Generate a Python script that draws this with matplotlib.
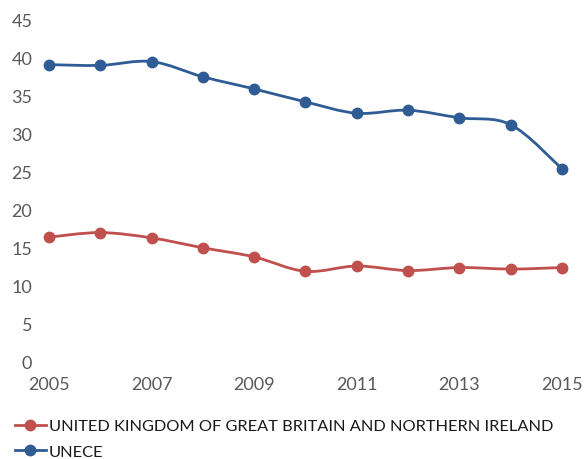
import matplotlib.pyplot as plt
from matplotlib.path import Path
from matplotlib.patches import PathPatch
from matplotlib.lines import Line2D

plt.rcParams['font.family'] = ['Lato', 'DejaVu Sans']

years = [2005, 2006, 2007, 2008, 2009, 2010, 2011, 2012, 2013, 2014, 2015]
uk = [16.3, 16.9, 16.2, 14.9, 13.7, 11.8, 12.5, 11.9, 12.3, 12.1, 12.3]
unece = [39.0, 38.9, 39.4, 37.4, 35.8, 34.1, 32.6, 33.0, 32.0, 31.1, 25.3]
uk_label = 'UNITED KINGDOM OF GREAT BRITAIN AND NORTHERN IRELAND'
unece_label = 'UNECE'
red = '#C0504D'
blue = '#2F5C95'


def smooth_path(xs, ys):
    # catmull-rom style bezier, roughly how excel smooths lines
    verts = [(xs[0], ys[0])]
    codes = [Path.MOVETO]
    n = len(xs)
    for i in range(n - 1):
        x0, y0 = (xs[i - 1], ys[i - 1]) if i > 0 else (xs[i], ys[i])
        x1, y1 = xs[i], ys[i]
        x2, y2 = xs[i + 1], ys[i + 1]
        x3, y3 = (xs[i + 2], ys[i + 2]) if i + 2 < n else (x2, y2)
        c1 = (x1 + (x2 - x0) / 6, y1 + (y2 - y0) / 6)
        c2 = (x2 - (x3 - x1) / 6, y2 - (y3 - y1) / 6)
        verts += [c1, c2, (x2, y2)]
        codes += [Path.CURVE4] * 3
    return Path(verts, codes)


fig = plt.figure(figsize=(5.88, 4.60), dpi=100)
ax = fig.add_axes([0.0833, 0.213, 0.8724, 0.7435])

for ys, col in [(uk, red), (unece, blue)]:
    ax.add_patch(PathPatch(smooth_path(years, ys), fill=False, edgecolor=col,
                           lw=2.0, capstyle='round', joinstyle='round', zorder=2))
    ax.plot(years, ys, 'o', color=col, ms=7.5, zorder=3, clip_on=False)

ax.set_xlim(2005, 2015)
ax.set_ylim(0, 45)
ax.set_xticks(range(2005, 2016, 2))
ax.set_yticks(range(0, 46, 5))
for s in ax.spines.values():
    s.set_visible(False)
ax.tick_params(length=0, labelsize=13, colors='#595959')
ax.tick_params(axis='x', pad=11)
ax.tick_params(axis='y', pad=12)

handles = [Line2D([], [], color=red, lw=2.0, marker='o', ms=7.5),
           Line2D([], [], color=blue, lw=2.0, marker='o', ms=7.5)]
fig.legend(handles, [uk_label, unece_label], loc='upper left',
           bbox_to_anchor=(0.025, 0.087), frameon=False, fontsize=11.8,
           handlelength=1.9, handletextpad=0.2, labelspacing=0.65,
           borderpad=0, borderaxespad=0, labelcolor='#1a1a1a')

fig.savefig('out.png', dpi=100)
